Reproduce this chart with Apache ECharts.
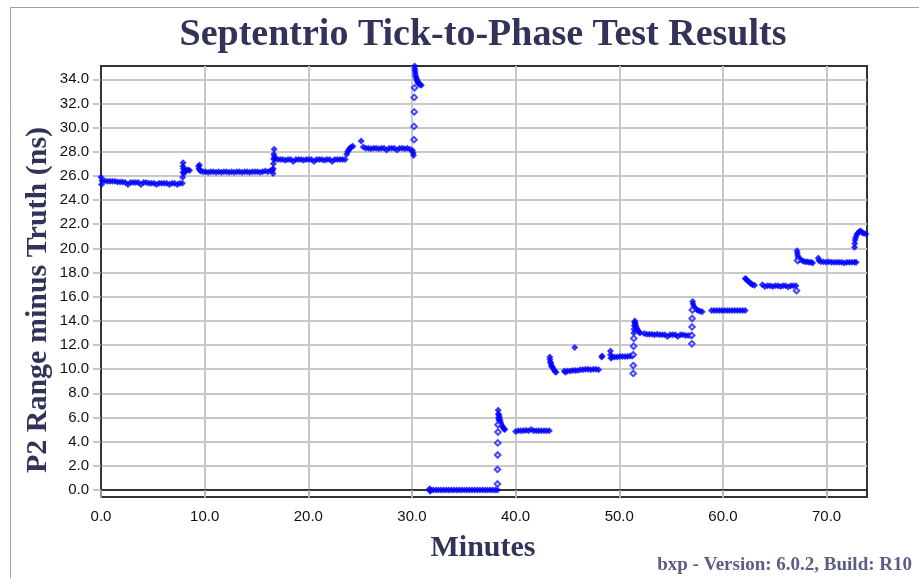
<!DOCTYPE html>
<html>
    <head>
        <meta charset="utf-8">
        <title>Septentrio Tick-to-Phase Test Results</title>
        <script src="https://cdn.jsdelivr.net/npm/echarts@6.0.0/dist/echarts.min.js"></script>
        <style>
            body { margin: 0; background: #fff; }
        </style>
    </head>
    <body>
        <div id="chart1" style="width: 919px;height: 578px"></div>
    </body>

    <script type="text/javascript">
        // tick labels
        var xTicks = [0, 10, 20, 30, 40, 50, 60, 70];
        var yTicks = [0, 2, 4, 6, 8, 10, 12, 14, 16, 18, 20, 22, 24, 26, 28, 30, 32, 34];

        // [minutes, ns], plateau by plateau
        var seg1 = [[0.0,25.9],[0.05,25.3],[0.1,25.6],[0.35,25.6],[0.6,25.55],[0.85,25.55],[1.1,25.55],[1.35,25.55],[1.6,25.5],[1.85,25.5],[2.1,25.5],[2.35,25.45],[2.6,25.3],[2.85,25.45],[3.1,25.45],[3.35,25.45],[3.6,25.45],[3.85,25.3],[4.1,25.45],[4.35,25.45],[4.6,25.4],[4.85,25.4],[5.1,25.4],[5.35,25.3],[5.6,25.4],[5.85,25.4],[6.1,25.4],[6.35,25.4],[6.6,25.3],[6.85,25.4],[7.1,25.4],[7.35,25.3],[7.6,25.4],[7.85,25.4]];
        var seg2 = [[7.88,25.9],[7.9,26.3],[7.9,26.8],[7.92,27.1],[7.95,26.6],[8.0,26.2],[8.1,26.4],[8.25,26.5],[8.4,26.5],[8.55,26.45]];
        var seg3 = [[9.4,26.8],[9.45,26.6],[9.5,26.9],[9.55,26.5],[9.6,26.4],[9.85,26.35],[10.1,26.35],[10.35,26.3],[10.6,26.35],[10.85,26.35],[11.1,26.3],[11.35,26.35],[11.6,26.3],[11.85,26.35],[12.1,26.35],[12.35,26.3],[12.6,26.35],[12.85,26.3],[13.1,26.35],[13.35,26.35],[13.6,26.3],[13.85,26.35],[14.1,26.35],[14.35,26.3],[14.6,26.35],[14.85,26.35],[15.1,26.35],[15.35,26.3],[15.6,26.35],[15.85,26.4],[16.1,26.35],[16.35,26.45],[16.55,26.5]];
        var seg4 = [[16.6,26.2],[16.62,26.6],[16.63,27.0],[16.65,27.4],[16.67,27.8],[16.7,28.2],[16.72,27.6],[16.8,27.4],[17.05,27.35],[17.3,27.35],[17.55,27.35],[17.8,27.3],[18.05,27.35],[18.3,27.35],[18.55,27.2],[18.8,27.35],[19.05,27.35],[19.3,27.35],[19.55,27.3],[19.8,27.35],[20.05,27.35],[20.3,27.35],[20.55,27.2],[20.8,27.35],[21.05,27.35],[21.3,27.35],[21.55,27.3],[21.8,27.35],[22.05,27.35],[22.3,27.2],[22.55,27.35],[22.8,27.35],[23.05,27.35],[23.3,27.35],[23.55,27.35],[23.7,27.8],[23.8,28.0],[23.9,28.15],[24.0,28.3],[24.15,28.4],[24.3,28.45]];
        var seg5 = [[25.1,28.9],[25.3,28.4],[25.55,28.3],[25.8,28.3],[26.05,28.25],[26.3,28.3],[26.55,28.3],[26.8,28.25],[27.05,28.3],[27.3,28.3],[27.55,28.15],[27.8,28.3],[28.05,28.3],[28.3,28.3],[28.55,28.15],[28.8,28.3],[29.05,28.3],[29.3,28.25],[29.55,28.3],[29.8,28.2],[30.05,28.1],[30.12,27.9],[30.15,27.7]];
        var seg6 = [[30.22,35.4],[30.25,35.1],[30.27,34.9],[30.3,34.7],[30.32,34.5],[30.35,34.3],[30.4,34.15],[30.45,34.0],[30.5,33.9],[30.55,33.8],[30.6,33.7],[30.7,33.6],[30.8,33.55],[30.9,33.5]];
        var seg7 = [[31.7,0.1],[31.75,-0.1],[31.8,0.0],[32.05,0.0],[32.3,0.0],[32.55,0.0],[32.8,0.0],[33.05,0.0],[33.3,0.0],[33.55,0.0],[33.8,0.0],[34.05,0.0],[34.3,0.0],[34.55,0.0],[34.8,0.0],[35.05,0.0],[35.3,0.0],[35.55,0.0],[35.8,0.0],[36.05,0.0],[36.3,0.0],[36.55,0.0],[36.8,0.0],[37.05,0.0],[37.3,0.0],[37.55,0.0],[37.8,0.0],[38.05,0.0],[38.25,0.0]];
        var seg8 = [[38.32,6.6],[38.33,6.3],[38.35,6.0],[38.37,5.8],[38.4,6.2],[38.45,6.0],[38.5,5.8],[38.55,5.6],[38.6,5.45],[38.7,5.3],[38.8,5.15],[38.9,5.05],[38.95,5.0]];
        var seg9 = [[40.0,4.85],[40.25,4.9],[40.5,4.9],[40.75,4.9],[41.0,4.95],[41.25,4.9],[41.5,5.0],[41.75,4.9],[42.0,4.9],[42.25,4.9],[42.5,4.9],[42.75,4.9],[43.0,4.9],[43.25,4.9]];
        var seg10 = [[43.3,11.0],[43.32,10.8],[43.35,10.6],[43.4,10.5],[43.45,10.3],[43.5,10.2],[43.6,10.1],[43.7,9.95],[43.8,9.8],[43.9,9.75],[44.7,9.85],[44.8,9.75],[45.0,9.85],[45.25,9.85],[45.5,9.9],[45.7,11.8],[45.75,9.9],[46.0,9.9],[46.25,9.95],[46.5,9.95],[46.75,10.0],[47.0,10.0],[47.25,9.95],[47.5,10.0],[47.75,10.0],[48.0,9.95],[48.3,11.0],[48.35,11.1]];
        var seg11 = [[49.15,11.5],[49.15,11.2],[49.2,10.9],[49.3,11.0],[49.55,11.0],[49.8,11.0],[50.05,11.05],[50.3,11.05],[50.55,11.05],[50.8,11.05],[51.05,11.1],[51.25,11.1]];
        var seg12 = [[51.4,13.0],[51.42,13.3],[51.45,13.6],[51.48,13.85],[51.5,14.0],[51.55,13.8],[51.6,13.6],[51.7,13.4],[51.8,13.2],[51.9,13.1],[52.0,13.0],[52.4,12.95],[52.65,12.9],[52.9,12.9],[53.15,12.9],[53.4,12.85],[53.65,12.9],[53.9,12.85],[54.15,12.85],[54.4,12.85],[54.65,12.7],[54.9,12.85],[55.15,12.85],[55.4,12.85],[55.65,12.7],[55.9,12.85],[56.15,12.85],[56.4,12.8],[56.65,12.8],[56.9,12.8]];
        var seg13 = [[57.08,15.6],[57.12,15.4],[57.2,15.2],[57.3,15.05],[57.45,14.95],[57.6,14.85],[57.8,14.8],[58.0,14.75],[58.9,14.85],[59.15,14.85],[59.4,14.85],[59.65,14.85],[59.9,14.85],[60.15,14.85],[60.4,14.85],[60.65,14.85],[60.9,14.85],[61.15,14.85],[61.4,14.85],[61.65,14.85],[61.9,14.85],[62.15,14.85]];
        var seg14 = [[62.15,17.5],[62.25,17.45],[62.4,17.3],[62.55,17.2],[62.7,17.1],[62.85,17.0],[63.05,16.95],[63.8,17.0],[64.05,16.85],[64.3,16.9],[64.55,16.9],[64.8,16.85],[65.05,16.9],[65.3,16.9],[65.55,16.85],[65.8,16.9],[66.05,16.9],[66.3,16.8],[66.55,16.9],[66.8,16.9],[67.05,16.9]];
        var seg15 = [[67.15,19.8],[67.18,19.6],[67.22,19.4],[67.27,19.2],[67.35,19.05],[67.5,19.1],[67.7,18.95],[67.9,18.9],[68.1,18.9],[68.3,18.85],[68.5,18.85],[68.65,18.8],[69.2,19.2],[69.25,19.0],[69.45,18.9],[69.7,18.9],[69.95,18.85],[70.2,18.9],[70.45,18.85],[70.7,18.85],[70.95,18.85],[71.2,18.85],[71.45,18.85],[71.7,18.8],[71.95,18.85],[72.2,18.85],[72.45,18.85],[72.7,18.85],[72.85,18.85]];
        var seg16 = [[72.7,20.1],[72.72,20.4],[72.75,20.7],[72.8,20.9],[72.9,21.1],[73.0,21.25],[73.15,21.4],[73.3,21.45],[73.45,21.3],[73.6,21.25],[73.8,21.2]];

        // sparse points while the range jumps (drawn hollow)
        var jumpPts = [[30.2,29.0],[30.2,30.1],[30.22,31.3],[30.22,32.5],[30.25,33.3],
                       [38.25,0.5],[38.25,1.7],[38.27,2.9],[38.28,3.9],[38.3,4.8],[38.3,5.4],
                       [51.35,9.65],[51.35,10.3],[51.35,11.2],[51.38,11.9],[51.4,12.55],
                       [57.0,12.1],[57.0,12.8],[57.02,13.5],[57.03,14.2],[57.05,14.9],
                       [67.1,16.5],[67.2,19.0]];

        var steadyPts = [].concat(seg1, seg2, seg3, seg4, seg5, seg6, seg7, seg8,
                                  seg9, seg10, seg11, seg12, seg13, seg14, seg15, seg16);

        var titleColor = '#33335a';
        var myChart1 = echarts.init(document.getElementById('chart1'));

        myChart1.setOption({
            backgroundColor: '#ffffff',
            animation: false,
            grid: {
                left: 101, top: 66, right: 52, bottom: 81,
                show: true,
                borderColor: '#333333',
                borderWidth: 2,
                outerBoundsMode: 'none'
            },
            xAxis: {
                type: 'value',
                min: 0,
                max: 73.9,
                minInterval: 10,
                maxInterval: 10,
                axisLine: { lineStyle: { color: '#333333', width: 2 } },
                axisTick: { show: true, length: 8, customValues: xTicks, lineStyle: { color: '#b4b4b4', width: 1.5 } },
                axisLabel: {
                    customValues: xTicks,
                    margin: 12,
                    color: '#111111',
                    fontFamily: 'Liberation Sans',
                    fontSize: 15,
                    formatter: function (v) { return v.toFixed(1); }
                },
                splitLine: { show: true, lineStyle: { color: '#c8c8c8', width: 2 } }
            },
            yAxis: {
                type: 'value',
                min: -0.58,
                max: 35.1,
                minInterval: 2,
                maxInterval: 2,
                axisLine: { show: true, lineStyle: { color: '#333333', width: 2 } },
                axisTick: { show: true, length: 8, customValues: yTicks, lineStyle: { color: '#b4b4b4', width: 1.5 } },
                axisLabel: {
                    customValues: yTicks,
                    margin: 12,
                    color: '#111111',
                    fontFamily: 'Liberation Sans',
                    fontSize: 15,
                    formatter: function (v) { return v.toFixed(1); }
                },
                splitLine: { show: true, lineStyle: { color: '#c8c8c8', width: 2 } }
            },
            graphic: [
                {
                    type: 'rect',
                    shape: { x: 10.5, y: 7.5, width: 1000, height: 1000 },
                    style: { fill: null, stroke: '#444444', lineWidth: 1, lineDash: [1, 1] },
                    silent: true
                },
                {
                    type: 'text', x: 483, y: 35,
                    style: { text: 'Septentrio Tick-to-Phase Test Results', fill: titleColor,
                             font: 'bold 38px "Liberation Serif"', align: 'center', verticalAlign: 'middle' }
                },
                {
                    type: 'text', x: 483, y: 548,
                    style: { text: 'Minutes', fill: titleColor,
                             font: 'bold 30px "Liberation Serif"', align: 'center', verticalAlign: 'middle' }
                },
                {
                    type: 'text', x: 38, y: 300, rotation: Math.PI / 2,
                    style: { text: 'P2 Range minus Truth (ns)', fill: titleColor,
                             font: 'bold 30px "Liberation Serif"', align: 'center', verticalAlign: 'middle' }
                },
                {
                    type: 'text', x: 912, y: 565,
                    style: { text: 'bxp - Version: 6.0.2, Build: R10', fill: '#5c5c84',
                             font: 'bold 19px "Liberation Serif"', align: 'right', verticalAlign: 'middle' }
                }
            ],
            series: [
                {
                    name: 'steady',
                    type: 'scatter',
                    symbol: 'diamond',
                    symbolSize: 7,
                    clip: true,
                    itemStyle: { color: '#0000ff' },
                    data: steadyPts
                },
                {
                    name: 'jump',
                    type: 'scatter',
                    symbol: 'emptyDiamond',
                    symbolSize: 5.5,
                    clip: true,
                    itemStyle: { color: '#1a1aff', borderWidth: 1.2 },
                    data: jumpPts
                }
            ]
        });
    </script>
</html>
